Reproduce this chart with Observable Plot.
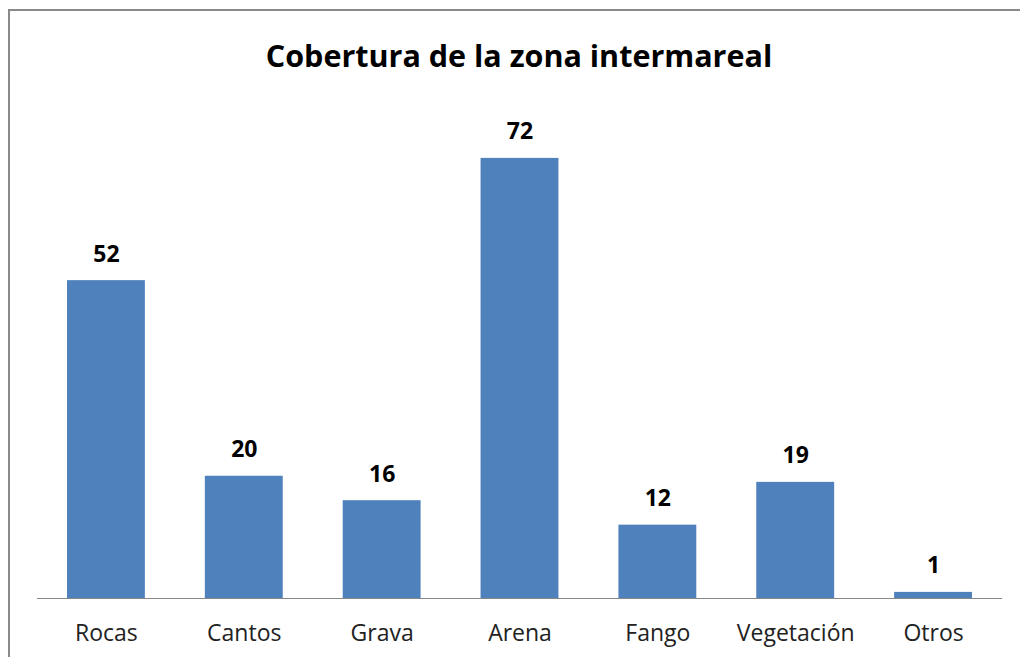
<!DOCTYPE html>
<html>
<head>
<meta charset="utf-8">
<script src="https://cdn.jsdelivr.net/npm/d3@7"></script>
<script src="https://cdn.jsdelivr.net/npm/@observablehq/plot@0.6"></script>
<style>
  html, body { margin: 0; padding: 0; background: #fff; overflow: hidden; }
  #wrap { position: relative; width: 1020px; height: 657px; overflow: hidden; }
  #frame { position: absolute; left: 8px; top: 9px; width: 1100px; height: 700px;
           border-left: 2px solid #898989; border-top: 2px solid #898989; }
  #title { position: absolute; left: 0; width: 1038px; top: 34px; text-align: center;
           font-family: "Open Sans", sans-serif; font-weight: bold; font-size: 30.5px; color: #000; }
  #chart { position: absolute; left: 0; top: 0; }
</style>
</head>
<body>
<div id="wrap">
  <div id="frame"></div>
  <div id="title">Cobertura de la zona intermareal</div>
  <div id="chart"></div>
</div>
<script>
const categories = ["Rocas", "Cantos", "Grava", "Arena", "Fango", "Vegetación", "Otros"];
const values = [52, 20, 16, 72, 12, 19, 1];

const data = categories.map((c, i) => ({category: c, value: values[i]}));

const chart = Plot.plot({
  width: 1020,
  height: 657,
  marginLeft: 37,
  marginRight: 18,
  marginTop: 109,
  marginBottom: 59,
  style: {fontFamily: "Open Sans, sans-serif", background: "transparent"},
  x: {domain: categories, paddingInner: 0.435, paddingOuter: 0.2175, round: false, label: null},
  y: {domain: [0, 80], axis: null},
  marks: [
    Plot.barY(data, {x: "category", y: "value", fill: "#4f81bd"}),
    Plot.ruleY([0], {stroke: "#868686", strokeWidth: 1.2}),
    Plot.text(data, {x: "category", y: "value", text: d => String(d.value),
      lineAnchor: "bottom", dy: -19, fontSize: 23, fontWeight: "bold", fill: "#000"}),
    Plot.axisX({tickSize: 0, tickPadding: 26, fontSize: 23, fill: "#222", label: null})
  ]
});
document.getElementById("chart").appendChild(chart);
</script>
</body>
</html>
